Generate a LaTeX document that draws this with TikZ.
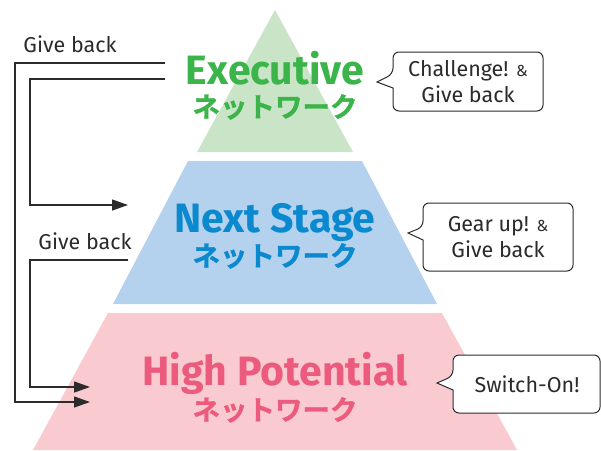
\documentclass[tikz,border=0pt]{standalone}
\usepackage{fontspec}
\setmainfont{Fira Sans}
\newfontfamily\jpfont{Noto Sans CJK JP}[BoldFont={* Bold}, BoldFeatures={FakeBold=1.2}]
\usetikzlibrary{arrows.meta}
\definecolor{gfill}{HTML}{CAE4C7}
\definecolor{bfill}{HTML}{B4D2EE}
\definecolor{pfill}{HTML}{F9CBD1}
\definecolor{gtxt}{HTML}{3BB54A}
\definecolor{btxt}{HTML}{0B89CF}
\definecolor{ptxt}{HTML}{EC5B7D}
\definecolor{ink}{HTML}{2B2B2B}
\tikzset{
  title/.style={font=\fontsize{41}{43}\selectfont\bfseries, inner sep=0pt, anchor=base},
  kana/.style={font=\jpfont\bfseries\fontsize{27.5}{29}\selectfont, inner sep=0pt, anchor=base},
  lbl/.style={font=\fontsize{21.5}{23}\selectfont, text=ink, inner sep=0pt, anchor=base},
  ctext/.style={font=\fontsize{21.5}{26}\selectfont, text=ink, align=center, inner sep=0pt},
  conn/.style={draw=ink, line width=1.3pt, -{Triangle[length=16pt,width=11pt]}},
  bubble/.style={draw=ink, line width=1pt, fill=white},
}
\begin{document}
\begin{tikzpicture}[x=1pt,y=-1pt]
\useasboundingbox (0,0) rectangle (601,450);
% pyramid layers
\fill[gfill] (275,10) -- (353,152) -- (197,152) -- cycle;
\fill[bfill] (188,161) -- (362,161) -- (437,304) -- (113,304) -- cycle;
\fill[pfill] (108,313) -- (442,313) -- (517,450) -- (33,450) -- cycle;
% titles
\node[title, text=gtxt] (exe) at (275,84) {Executive};
\node[kana, text=gtxt] (exek) at (275,117) {ネットワーク};
\node[title, text=btxt] (nxt) at (275,232) {Next Stage};
\node[kana, text=btxt] (nxtk) at (275,266) {ネットワーク};
\node[title, text=ptxt] (hp) at (275,385) {High Potential};
\node[kana, text=ptxt] (hpk) at (275,420) {ネットワーク};
% connectors
\coordinate (s1) at (165,63);
\coordinate (s2) at (165,79);
\coordinate (s3) at (128,260);
\coordinate (t2) at (128,205);
\coordinate (t1) at (90,402);
\coordinate (t3) at (90,387);
\draw[conn] (s1) -- (15,63) -- (15,402) -- (t1);
\draw[conn] (s2) -- (30,79) -- (30,205) -- (t2);
\draw[conn] (s3) -- (30,260) -- (30,387) -- (t3);
\node[lbl] (gb1) at (70,52) {Give back};
\node[lbl] (gb2) at (85,249) {Give back};
% callouts
\draw[bubble, rounded corners=6pt] (393,88) -- (393,111) -- (543,111) -- (543,52) -- (393,52) -- (393,74) [sharp corners] -- (377,82) -- cycle;
\node[ctext] (c1) at (468,82) {Challenge! {\fontsize{16}{18}\selectfont\&}\\Give back};
\draw[bubble, rounded corners=6pt] (423,240) -- (423,271) -- (573,271) -- (573,203) -- (423,203) -- (423,227) [sharp corners] -- (408,233) -- cycle;
\node[ctext] (c2) at (498,237) {Gear up! {\fontsize{16}{18}\selectfont\&}\\Give back};
\draw[bubble, rounded corners=6pt] (453,390) -- (453,413) -- (600,413) -- (600,355) -- (453,355) -- (453,376) [sharp corners] -- (437,383) -- cycle;
\node[ctext] (c3) at (527,384) {Switch-On!};
\end{tikzpicture}
\end{document}
